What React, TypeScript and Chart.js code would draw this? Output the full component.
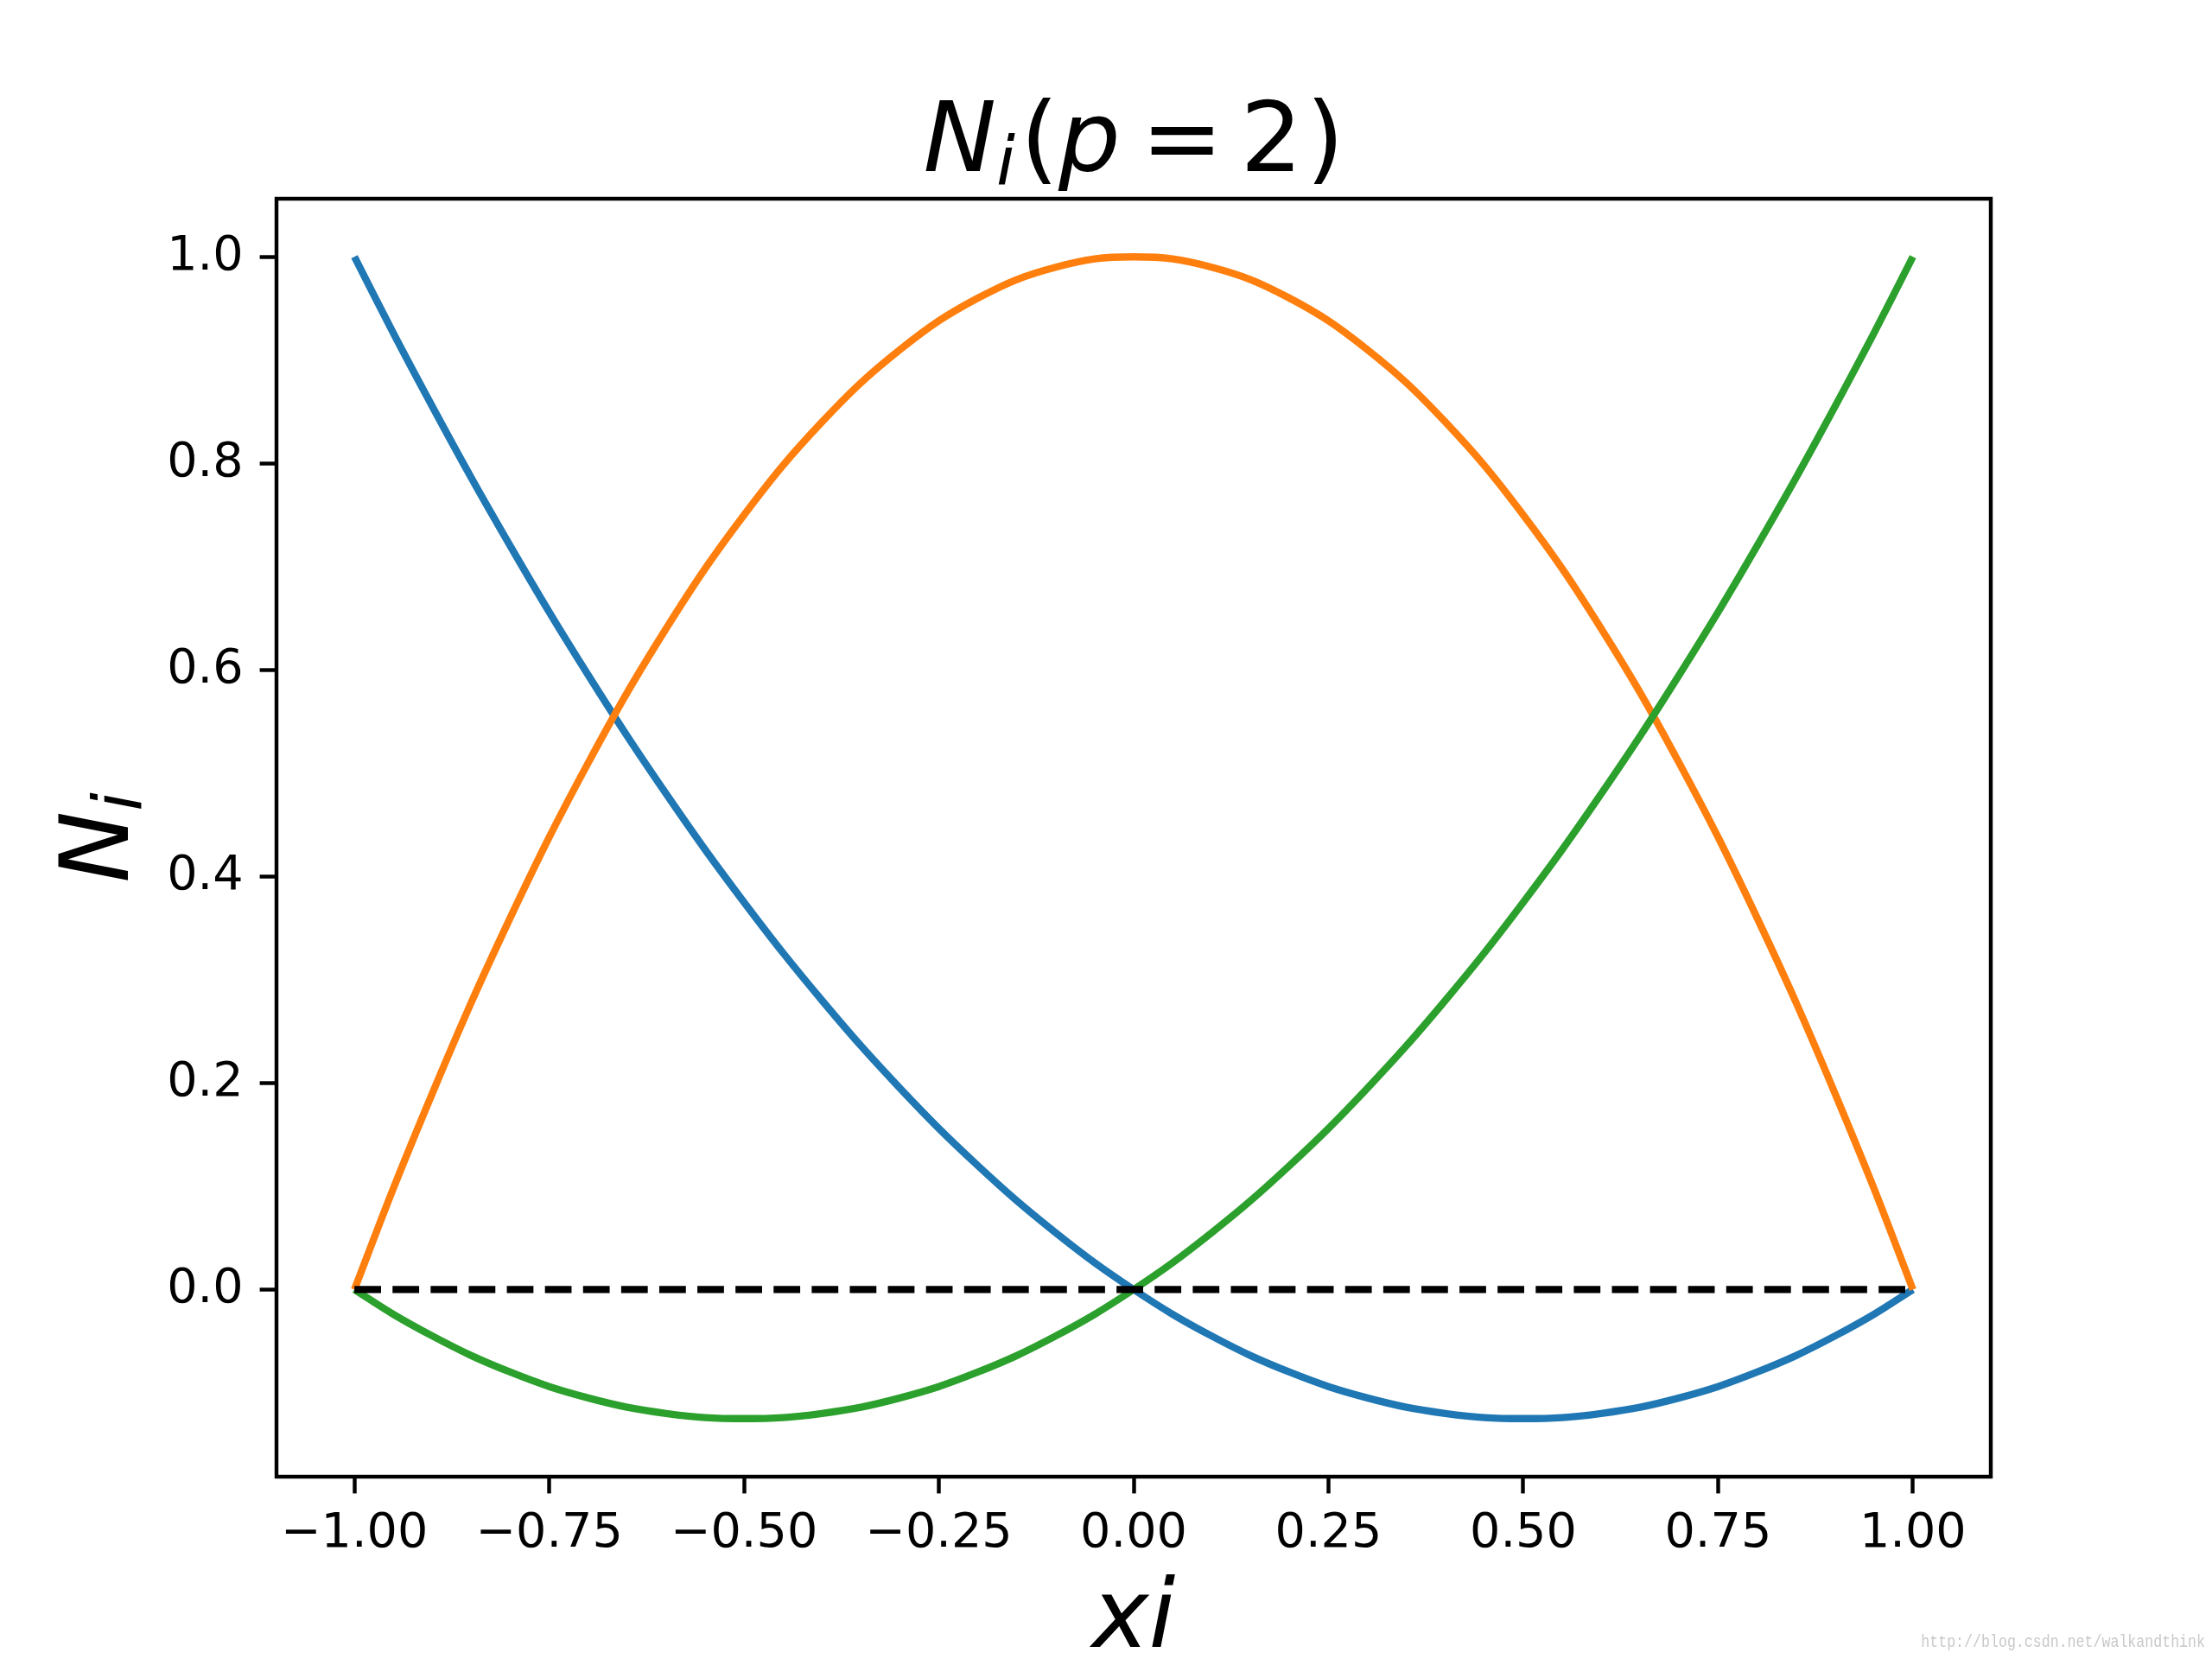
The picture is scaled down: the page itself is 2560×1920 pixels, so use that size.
import React, { useEffect, useRef } from 'react';
import { Chart, registerables } from 'chart.js';

Chart.register(...registerables);

// xi sample positions
const xiValues = [
  -1.0, -0.95, -0.9, -0.85, -0.8, -0.75, -0.7, -0.65, -0.6, -0.55, -0.5,
  -0.45, -0.4, -0.35, -0.3, -0.25, -0.2, -0.15, -0.1, -0.05, 0.0,
  0.05, 0.1, 0.15, 0.2, 0.25, 0.3, 0.35, 0.4, 0.45, 0.5,
  0.55, 0.6, 0.65, 0.7, 0.75, 0.8, 0.85, 0.9, 0.95, 1.0,
];

// N1 (blue)
const n1Values = [
  1.0, 0.926, 0.855, 0.786, 0.72, 0.656, 0.595, 0.536, 0.48, 0.426, 0.375,
  0.326, 0.28, 0.236, 0.195, 0.156, 0.12, 0.086, 0.055, 0.026, 0.0,
  -0.024, -0.045, -0.064, -0.08, -0.094, -0.105, -0.114, -0.12, -0.124, -0.125,
  -0.124, -0.12, -0.114, -0.105, -0.094, -0.08, -0.064, -0.045, -0.024, 0.0,
];

// N2 (orange)
const n2Values = [
  0.0, 0.098, 0.19, 0.278, 0.36, 0.438, 0.51, 0.578, 0.64, 0.698, 0.75,
  0.798, 0.84, 0.878, 0.91, 0.938, 0.96, 0.978, 0.99, 0.998, 1.0,
  0.998, 0.99, 0.978, 0.96, 0.938, 0.91, 0.878, 0.84, 0.798, 0.75,
  0.698, 0.64, 0.578, 0.51, 0.438, 0.36, 0.278, 0.19, 0.098, 0.0,
];

// N3 (green)
const n3Values = [
  0.0, -0.024, -0.045, -0.064, -0.08, -0.094, -0.105, -0.114, -0.12, -0.124, -0.125,
  -0.124, -0.12, -0.114, -0.105, -0.094, -0.08, -0.064, -0.045, -0.024, 0.0,
  0.026, 0.055, 0.086, 0.12, 0.156, 0.195, 0.236, 0.28, 0.326, 0.375,
  0.426, 0.48, 0.536, 0.595, 0.656, 0.72, 0.786, 0.855, 0.926, 1.0,
];

// dashed zero line
const zeroLineX = [-1.0, 1.0];
const zeroLineY = [0.0, 0.0];

const xTickValues = [-1.0, -0.75, -0.5, -0.25, 0.0, 0.25, 0.5, 0.75, 1.0];
const yTickValues = [0.0, 0.2, 0.4, 0.6, 0.8, 1.0];

const X_MIN = -1.1;
const X_MAX = 1.1;
const Y_MIN = -0.18125;
const Y_MAX = 1.05625;

const FONT = '"DejaVu Sans", sans-serif';
const TICK_PX = 55.6;
const LABEL_PX = 111;
const TITLE_PX = 113;
const LW = 8.33;
const SPINE = 4.44;
const TICK_LEN = 19.4;

type Run = { t: string; it?: boolean; sc?: number; dy?: number; gl?: number; gr?: number };

function drawRuns(ctx: CanvasRenderingContext2D, runs: Run[], size: number, cx: number, baseline: number) {
  const fontFor = (r: Run) => `${r.it ? 'italic ' : ''}${size * (r.sc ?? 1)}px ${FONT}`;
  const widths: number[] = [];
  let total = 0;
  for (const r of runs) {
    ctx.font = fontFor(r);
    const w = ctx.measureText(r.t).width;
    widths.push(w);
    total += (r.gl || 0) + w + (r.gr || 0);
  }
  let x = cx - total / 2;
  ctx.textAlign = 'left';
  ctx.textBaseline = 'alphabetic';
  runs.forEach((r, i) => {
    x += r.gl || 0;
    ctx.font = fontFor(r);
    ctx.fillText(r.t, x, baseline + (r.dy || 0));
    x += widths[i] + (r.gr || 0);
  });
}

const overlayPlugin = {
  id: 'overlay',
  afterDraw(chart: any) {
    const ctx: CanvasRenderingContext2D = chart.ctx;
    const a = chart.chartArea;
    ctx.save();
    // frame
    ctx.strokeStyle = '#000';
    ctx.lineWidth = SPINE;
    ctx.lineJoin = 'miter';
    ctx.strokeRect(a.left, a.top, a.right - a.left, a.bottom - a.top);

    ctx.fillStyle = '#000';
    const cx = (a.left + a.right) / 2;
    // title
    drawRuns(
      ctx,
      [
        { t: 'N', it: true },
        { t: 'i', it: true, sc: 0.7, dy: 16 },
        { t: '(', gl: 6 },
        { t: 'p', it: true },
        { t: '=', gl: 24, gr: 20 },
        { t: '2' },
        { t: ')', gl: 4 },
      ],
      TITLE_PX,
      cx,
      198
    );
    // x label
    drawRuns(ctx, [{ t: 'x', it: true }, { t: 'i', it: true }], LABEL_PX, cx, 1906);
    // y label
    ctx.save();
    ctx.translate(148, (a.top + a.bottom) / 2);
    ctx.rotate(-Math.PI / 2);
    drawRuns(ctx, [{ t: 'N', it: true }, { t: 'i', it: true, sc: 0.7, dy: 16 }], LABEL_PX, 0, 0);
    ctx.restore();

    // watermark
    ctx.save();
    ctx.font = '20px "Liberation Mono", monospace';
    ctx.fillStyle = '#c8c8c8';
    ctx.textAlign = 'right';
    ctx.textBaseline = 'alphabetic';
    ctx.translate(2552, 1906);
    ctx.scale(0.83, 1);
    ctx.fillText('http://blog.csdn.net/walkandthink', 0, 0);
    ctx.restore();
    ctx.restore();
  },
};

function pts(xs: number[], ys: number[]) {
  return xs.map((x, i) => ({ x, y: ys[i] }));
}

const fmtMinus = (s: string) => s.replace('-', '\u2212');

export default function App() {
  const ref = useRef<HTMLCanvasElement | null>(null);
  useEffect(() => {
    if (!ref.current) return;
    const common = {
      pointRadius: 0,
      pointHoverRadius: 0,
      borderWidth: LW,
      fill: false,
      tension: 0.33,
      borderCapStyle: 'butt' as const,
    };
    const chart = new Chart(ref.current, {
      type: 'line',
      data: {
        datasets: [
          { ...common, data: pts(xiValues, n1Values), borderColor: '#1f77b4', order: 3 },
          { ...common, data: pts(xiValues, n2Values), borderColor: '#ff7f0e', order: 2 },
          { ...common, data: pts(xiValues, n3Values), borderColor: '#2ca02c', order: 1 },
          {
            ...common,
            tension: 0,
            data: pts(zeroLineX, zeroLineY),
            borderColor: '#000000',
            borderDash: [30.8, 13.3],
            order: 0,
          },
        ],
      },
      options: {
        animation: false,
        responsive: false,
        devicePixelRatio: 1,
        events: [],
        layout: { padding: { left: 0, top: 230, right: 256, bottom: 0 } },
        plugins: {
          legend: { display: false },
          title: { display: false },
          tooltip: { enabled: false },
        },
        scales: {
          x: {
            type: 'linear',
            min: X_MIN,
            max: X_MAX,
            afterBuildTicks: (s: any) => {
              s.ticks = xTickValues.map((v) => ({ value: v }));
            },
            afterFit: (s: any) => {
              s.height = 211;
            },
            ticks: {
              autoSkip: false,
              maxRotation: 0,
              minRotation: 0,
              color: '#000',
              padding: 14,
              font: { family: 'DejaVu Sans', size: TICK_PX },
              callback: (v: any) => fmtMinus(Number(v).toFixed(2)),
            },
            grid: {
              display: true,
              drawOnChartArea: false,
              drawTicks: true,
              tickLength: TICK_LEN,
              tickWidth: SPINE,
              tickColor: '#000',
            },
            border: { display: false },
          },
          y: {
            type: 'linear',
            min: Y_MIN,
            max: Y_MAX,
            afterBuildTicks: (s: any) => {
              s.ticks = yTickValues.map((v) => ({ value: v }));
            },
            afterFit: (s: any) => {
              s.width = 320;
            },
            ticks: {
              autoSkip: false,
              color: '#000',
              padding: 19,
              font: { family: 'DejaVu Sans', size: TICK_PX },
              callback: (v: any) => fmtMinus(Number(v).toFixed(1)),
            },
            grid: {
              display: true,
              drawOnChartArea: false,
              drawTicks: true,
              tickLength: TICK_LEN,
              tickWidth: SPINE,
              tickColor: '#000',
            },
            border: { display: false },
          },
        },
      },
      plugins: [overlayPlugin],
    });
    return () => chart.destroy();
  }, []);

  return (
    <div style={{ position: 'absolute', left: 0, top: 0, width: 2560, height: 1920, background: '#fff' }}>
      <canvas ref={ref} width={2560} height={1920} style={{ width: 2560, height: 1920, display: 'block' }} />
    </div>
  );
}
